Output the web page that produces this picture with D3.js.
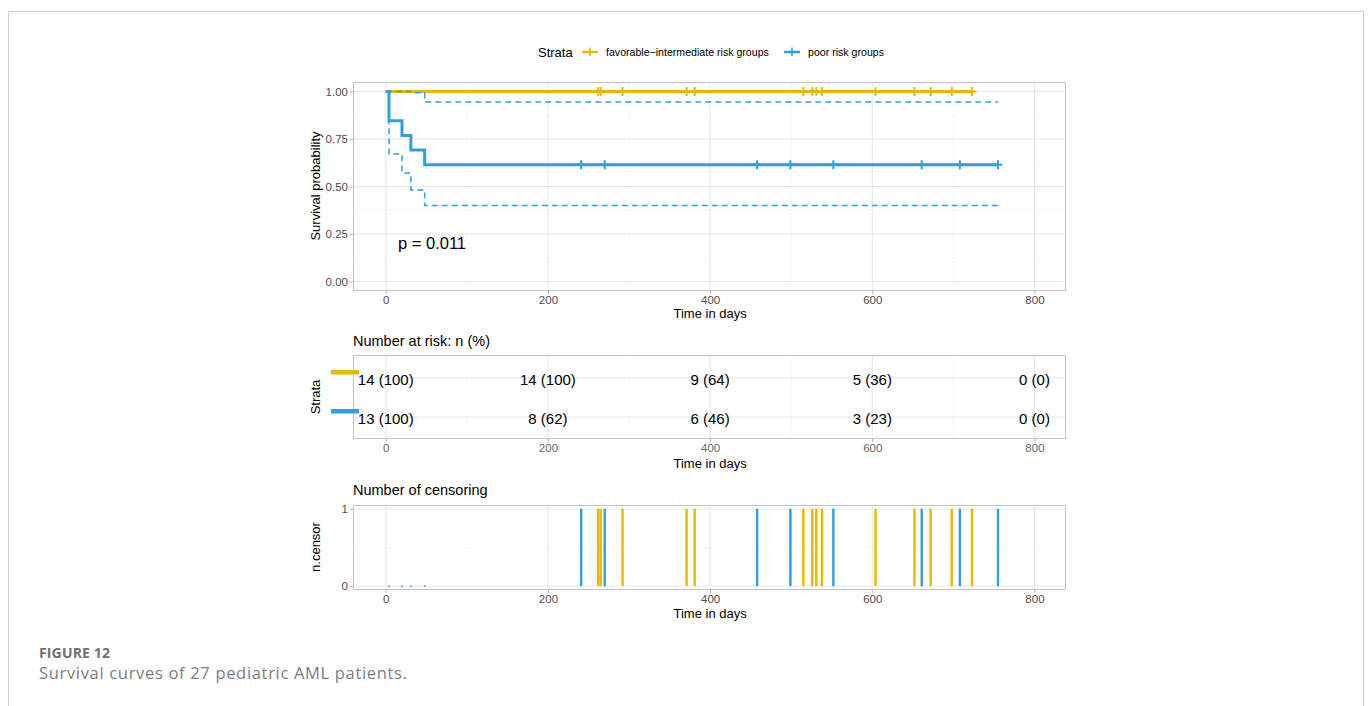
<!DOCTYPE html>
<html>
<head>
<meta charset="utf-8">
<script src="https://cdn.jsdelivr.net/npm/d3@7"></script>
<style>
  body { margin: 0; background: #fff; }
  svg text { font-family: "Liberation Sans", Arial, sans-serif; }
  svg .caption text { font-family: "Open Sans", sans-serif; }
</style>
</head>
<body>
<svg id="chart" width="1372" height="706"></svg>
<script>
const strata = ['favorable\u2212intermediate risk groups', 'poor risk groups'];
const strataColors = ['#E7B800', '#2E9FDF'];

// favorable-intermediate: no events, every patient censored
const favCensorTimes = [262, 265, 292, 371, 381, 515, 526, 531, 538, 604, 652, 672, 698, 723];

// poor risk: step times with survival and 95% CI
const poorStepTimes = [0, 4, 20, 31, 48];
const poorSurv = [1, 0.846, 0.769, 0.692, 0.615];
const poorUpper = [1, 1, 1, 0.994, 0.945];
const poorLower = [1, 0.671, 0.571, 0.482, 0.400];
const poorCensorTimes = [241, 270, 458, 499, 552, 661, 708, 755];
const poorEventTimes = [4, 20, 31, 48];

const riskTimes = [0, 200, 400, 600, 800];
const riskFav = ['14 (100)', '14 (100)', '9 (64)', '5 (36)', '0 (0)'];
const riskPoor = ['13 (100)', '8 (62)', '6 (46)', '3 (23)', '0 (0)'];

const xTicks = [0, 200, 400, 600, 800];
const xMinor = [100, 300, 500, 700];
const survTicks = [0, 0.25, 0.5, 0.75, 1];
const survMinor = [0.125, 0.375, 0.625, 0.875];
const censorTicks = [0, 1];
const pValueLabel = 'p = 0.011';

const svg = d3.select('#chart');

// outer frame + caption
svg.append('rect')
  .attr('x', 8.5).attr('y', 11.5)
  .attr('width', 1355).attr('height', 720)
  .attr('fill', 'none').attr('stroke', '#cfcfcf');

const caption = svg.append('g').attr('class', 'caption');
caption.append('text')
  .attr('x', 39).attr('y', 658)
  .attr('font-size', 14).attr('font-weight', 700)
  .attr('fill', '#707070')
  .attr('textLength', 71).attr('lengthAdjust', 'spacing')
  .text('FIGURE 12');
caption.append('text')
  .attr('x', 39).attr('y', 678.5)
  .attr('font-size', 16.5)
  .attr('fill', '#7d7d7d')
  .attr('textLength', 368).attr('lengthAdjust', 'spacing')
  .text('Survival curves of 27 pediatric AML patients.');

const left = 353, right = 1066;
const x = d3.scaleLinear().domain([-40.4, 838.9]).range([left, right]);

function drawPanel(top, bottom, y, yTicks, yMinor, yTickFormat) {
  const g = svg.append('g');

  g.selectAll('.minor-x').data(xMinor).join('line')
    .attr('x1', d => x(d)).attr('x2', d => x(d))
    .attr('y1', top).attr('y2', bottom)
    .attr('stroke', '#f2f2f2').attr('stroke-width', 0.6);
  g.selectAll('.minor-y').data(yMinor).join('line')
    .attr('x1', left).attr('x2', right)
    .attr('y1', d => y(d)).attr('y2', d => y(d))
    .attr('stroke', '#f2f2f2').attr('stroke-width', 0.6);
  g.selectAll('.major-x').data(xTicks).join('line')
    .attr('x1', d => x(d)).attr('x2', d => x(d))
    .attr('y1', top).attr('y2', bottom)
    .attr('stroke', '#e6e6e6').attr('stroke-width', 1);
  g.selectAll('.major-y').data(yTicks).join('line')
    .attr('x1', left).attr('x2', right)
    .attr('y1', d => y(d)).attr('y2', d => y(d))
    .attr('stroke', '#e6e6e6').attr('stroke-width', 1);

  g.append('rect')
    .attr('x', left + 0.5).attr('y', top + 0.5)
    .attr('width', right - left - 1).attr('height', bottom - top - 1)
    .attr('fill', 'none').attr('stroke', '#c4c4c4');

  const gx = g.append('g')
    .attr('transform', `translate(0,${bottom})`)
    .call(d3.axisBottom(x).tickValues(xTicks).tickSize(3).tickPadding(2));
  styleAxis(gx);

  if (yTickFormat) {
    const gy = g.append('g')
      .attr('transform', `translate(${left},0)`)
      .call(d3.axisLeft(y).tickValues(yTicks).tickFormat(yTickFormat).tickSize(3).tickPadding(2));
    styleAxis(gy);
  }
  return g;
}

function styleAxis(ax) {
  ax.select('.domain').remove();
  ax.selectAll('.tick line').attr('stroke', '#b3b3b3');
  ax.selectAll('.tick text')
    .attr('fill', '#4d4d4d')
    .attr('font-size', 11.5)
    .attr('font-family', '"Liberation Sans", Arial, sans-serif');
}

function axisTitles(xTitleY, yTitle, yTitleCenter) {
  svg.append('text')
    .attr('x', x(400)).attr('y', xTitleY)
    .attr('text-anchor', 'middle').attr('font-size', 13)
    .text('Time in days');
  svg.append('text')
    .attr('transform', `translate(320,${yTitleCenter}) rotate(-90)`)
    .attr('text-anchor', 'middle').attr('font-size', 13)
    .text(yTitle);
}

// ---------- legend ----------
const legend = svg.append('g');
legend.append('text')
  .attr('x', 538).attr('y', 57)
  .attr('font-size', 13).text('Strata');
const legendX = [582, 784];
strata.forEach((s, i) => {
  const lg = legend.append('g').attr('transform', `translate(${legendX[i]},52)`);
  lg.append('line').attr('x1', 0).attr('x2', 16)
    .attr('stroke', strataColors[i]).attr('stroke-width', 2.5);
  lg.append('path').attr('d', 'M4,0H12M8,-4.5V4')
    .attr('stroke', strataColors[i]).attr('stroke-width', 1.6);
  lg.append('text').attr('x', 24).attr('y', 4)
    .attr('font-size', 10.6).text(s);
});

// ---------- survival curves ----------
const ySurv = d3.scaleLinear().domain([-0.05, 1.05]).range([291, 82]);
drawPanel(82, 291, ySurv, survTicks, survMinor, d3.format('.2f'));
axisTitles(318, 'Survival probability', 186);

const step = d3.line()
  .x(d => x(d[0]))
  .y(d => ySurv(d[1]))
  .curve(d3.curveStepAfter);

const lastFav = d3.max(favCensorTimes);
const lastPoor = d3.max(poorCensorTimes);
const favPts = [[0, 1], [lastFav, 1]];
const poorPts = poorStepTimes.map((t, i) => [t, poorSurv[i]]).concat([[lastPoor, poorSurv[poorSurv.length - 1]]]);
const upperPts = poorStepTimes.map((t, i) => [t, poorUpper[i]]).concat([[lastPoor, poorUpper[poorUpper.length - 1]]]);
const lowerPts = poorStepTimes.map((t, i) => [t, poorLower[i]]).concat([[lastPoor, poorLower[poorLower.length - 1]]]);

const curves = svg.append('g');
curves.append('path').datum(favPts).attr('d', step)
  .attr('fill', 'none').attr('stroke', strataColors[0]).attr('stroke-width', 3);
curves.append('path').datum(poorPts).attr('d', step)
  .attr('fill', 'none').attr('stroke', strataColors[1]).attr('stroke-width', 3);
[upperPts, lowerPts].forEach(pts => {
  curves.append('path').datum(pts).attr('d', step)
    .attr('fill', 'none').attr('stroke', strataColors[1])
    .attr('stroke-width', 1.5).attr('stroke-dasharray', '6,4');
});

const plus = 'M-4.5,0H4.5M0,-4.5V4.5';
curves.selectAll('.cens-fav').data(favCensorTimes).join('path')
  .attr('transform', d => `translate(${x(d)},${ySurv(1)})`)
  .attr('d', plus).attr('stroke', strataColors[0]).attr('stroke-width', 2);
curves.selectAll('.cens-poor').data(poorCensorTimes).join('path')
  .attr('transform', d => `translate(${x(d)},${ySurv(poorSurv[poorSurv.length - 1])})`)
  .attr('d', plus).attr('stroke', strataColors[1]).attr('stroke-width', 2);

svg.append('text')
  .attr('x', 398).attr('y', 249)
  .attr('font-size', 16.5).text(pValueLabel);

// ---------- risk table ----------
svg.append('text').attr('x', 353).attr('y', 346)
  .attr('font-size', 14.5).text('Number at risk: n (%)');

const yRisk = d3.scalePoint().domain(strata).range([378, 417]);
const riskG = svg.append('g');
xMinor.forEach(d => riskG.append('line')
  .attr('x1', x(d)).attr('x2', x(d)).attr('y1', 355).attr('y2', 439)
  .attr('stroke', '#f2f2f2').attr('stroke-width', 0.6));
xTicks.forEach(d => riskG.append('line')
  .attr('x1', x(d)).attr('x2', x(d)).attr('y1', 355).attr('y2', 439)
  .attr('stroke', '#e6e6e6'));
strata.forEach(s => riskG.append('line')
  .attr('x1', left).attr('x2', right).attr('y1', yRisk(s)).attr('y2', yRisk(s))
  .attr('stroke', '#e6e6e6'));
riskG.append('rect')
  .attr('x', left + 0.5).attr('y', 355.5)
  .attr('width', right - left - 1).attr('height', 83)
  .attr('fill', 'none').attr('stroke', '#c4c4c4');
const riskAx = riskG.append('g').attr('transform', 'translate(0,439)')
  .call(d3.axisBottom(x).tickValues(xTicks).tickSize(3).tickPadding(2));
styleAxis(riskAx);
riskAx.selectAll('.tick text').attr('fill', '#666');

[riskFav, riskPoor].forEach((row, i) => {
  riskG.selectAll(null).data(row).join('text')
    .attr('x', (d, j) => x(riskTimes[j]))
    .attr('y', yRisk(strata[i]))
    .attr('dy', '0.45em')
    .attr('text-anchor', 'middle').attr('font-size', 15)
    .text(d => d);
  riskG.append('rect')
    .attr('x', 331).attr('y', yRisk(strata[i]) - 8)
    .attr('width', 28).attr('height', 4.5)
    .attr('fill', strataColors[i]);
});
axisTitles(468, 'Strata', 397);

// ---------- number of censoring ----------
svg.append('text').attr('x', 353).attr('y', 495)
  .attr('font-size', 14.5).text('Number of censoring');

const yCens = d3.scaleLinear().domain([-0.05, 1.05]).range([590, 505]);
drawPanel(505, 590, yCens, censorTicks, [0.5], d3.format('d'));
axisTitles(618, 'n.censor', 547);

const censG = svg.append('g');
[favCensorTimes, poorCensorTimes].forEach((times, i) => {
  censG.selectAll(null).data(times).join('line')
    .attr('x1', d => x(d)).attr('x2', d => x(d))
    .attr('y1', yCens(0)).attr('y2', yCens(1))
    .attr('stroke', strataColors[i]).attr('stroke-width', 2.4);
});
// events give n.censor = 0
censG.selectAll(null).data(poorEventTimes).join('line')
  .attr('x1', d => x(d) - 0.8).attr('x2', d => x(d) + 0.8)
  .attr('y1', yCens(0)).attr('y2', yCens(0))
  .attr('stroke', strataColors[1]).attr('stroke-width', 1.5);
</script>
</body>
</html>
